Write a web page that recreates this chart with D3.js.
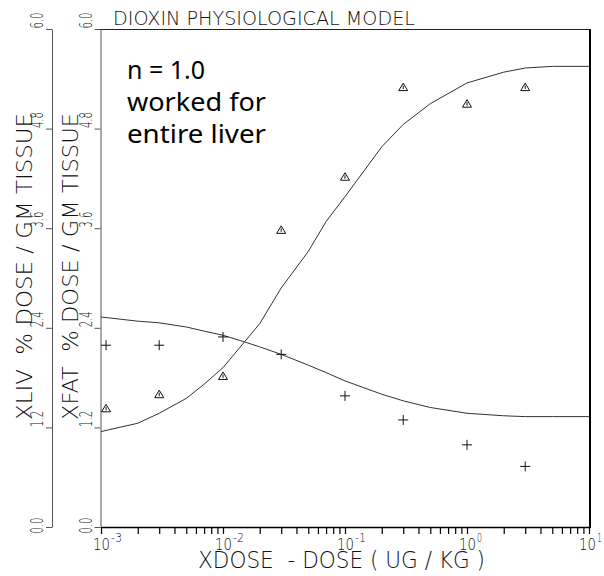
<!DOCTYPE html>
<html>
<head>
<meta charset="utf-8">
<script src="https://cdn.jsdelivr.net/npm/d3@7"></script>
<style>
  body { margin: 0; background: #fff; }
  .plot text { font-family: "DejaVu Sans", sans-serif; font-weight: 200; fill: #111; white-space: pre; }
  .note { font-family: "Noto Sans", sans-serif; fill: #000; }
</style>
</head>
<body>
<svg id="chart" width="604" height="576"></svg>
<script>
// doses for the model curves (ug/kg)
const curveDose = [0.001, 0.002, 0.003, 0.005, 0.007, 0.01, 0.015, 0.02, 0.03, 0.05, 0.07,
  0.1, 0.2, 0.3, 0.5, 1, 2, 3, 5, 10];
// liver model curve (% dose / gm tissue)
const liverCurve = [1.15, 1.25, 1.37, 1.55, 1.72, 1.92, 2.23, 2.45, 2.88, 3.32, 3.68,
  3.98, 4.58, 4.85, 5.10, 5.35, 5.48, 5.53, 5.55, 5.55];
// fat model curve
const fatCurve = [2.53, 2.48, 2.46, 2.41, 2.36, 2.31, 2.23, 2.17, 2.08, 1.95, 1.86,
  1.76, 1.60, 1.52, 1.44, 1.37, 1.34, 1.33, 1.33, 1.33];

// observed data
const obsDose = [0.0011, 0.003, 0.01, 0.03, 0.1, 0.3, 1, 3];
const liverObs = [1.43, 1.60, 1.82, 3.58, 4.22, 5.30, 5.10, 5.30];
const fatObs = [2.19, 2.19, 2.29, 2.08, 1.58, 1.29, 0.99, 0.73];

const yTicks = [0, 1.2, 2.4, 3.6, 4.8, 6.0];
const xDecades = [-3, -2, -1, 0, 1];
const noteLines = ["n = 1.0", "worked for", "entire liver"];

const svg = d3.select("#chart");
const g = svg.append("g").attr("class", "plot");

const x = d3.scaleLog().domain([1e-3, 10]).range([101, 589]);
const y = d3.scaleLinear().domain([0, 6]).range([527, 29]);

// minor + major ticks on the log axis
const xTicks = [];
xDecades.forEach((e) => {
  for (let m = 1; m <= 9; m++) {
    const v = m * Math.pow(10, e);
    if (v <= 10 + 1e-9) xTicks.push(v);
  }
});

// frame: top line and right border
g.append("line").attr("x1", 100).attr("x2", 590).attr("y1", 29.5).attr("y2", 29.5)
  .attr("stroke", "#222").attr("stroke-width", 1);
g.append("line").attr("x1", 590).attr("x2", 590).attr("y1", 29).attr("y2", 528)
  .attr("stroke", "#000").attr("stroke-width", 2);

// two left axes (same scale)
const leftAxes = [
  { pos: 52, title: "XLIV  % DOSE / GM TISSUE", titleX: 32 },
  { pos: 100.5, title: "XFAT  % DOSE / GM TISSUE", titleX: 78 }
];

leftAxes.forEach((a) => {
  const ax = g.append("g")
    .attr("transform", `translate(${a.pos},0)`)
    .call(d3.axisLeft(y).tickValues(yTicks).tickSize(6).tickSizeOuter(0)
      .tickFormat(d3.format(".1f")));
  ax.select(".domain").attr("stroke", "#555");
  ax.selectAll(".tick line").attr("stroke", "#555");
  ax.selectAll(".tick text")
    .attr("x", 0).attr("y", 0).attr("dy", 0)
    .attr("text-anchor", "start")
    .attr("font-size", 17)
    .attr("textLength", 16)
    .attr("lengthAdjust", "spacingAndGlyphs")
    .attr("fill", "#111")
    .attr("transform", (d) => `translate(-9,${d === 0 ? 6 : -1}) rotate(-90)`);

  g.append("text")
    .attr("transform", `translate(${a.titleX},420) rotate(-90)`)
    .attr("font-size", 21)
    .attr("textLength", 307)
    .attr("lengthAdjust", "spacingAndGlyphs")
    .text(a.title);
});

// bottom log axis
const bx = g.append("g")
  .attr("transform", "translate(0,527)")
  .call(d3.axisBottom(x).tickValues(xTicks).tickSize(7).tickSizeOuter(0));
bx.selectAll(".tick text").remove();
bx.select(".domain").attr("stroke", "#000").attr("stroke-width", 1.5);
bx.selectAll(".tick line").attr("stroke", "#000").attr("stroke-width", 1.2);

// decade labels 10^n
xDecades.forEach((e) => {
  const px = x(Math.pow(10, e));
  const t = g.append("text").attr("x", e === 1 ? px - 10 : px - 8).attr("y", 550)
    .attr("font-size", 16);
  t.append("tspan").text("10").attr("textLength", 17).attr("lengthAdjust", "spacingAndGlyphs");
  const sup = String(e);
  t.append("tspan").text(sup).attr("dx", 1).attr("dy", -8).attr("font-size", 13)
    .attr("textLength", sup.length > 1 ? 11 : 5).attr("lengthAdjust", "spacingAndGlyphs");
});

g.append("text")
  .attr("x", 198).attr("y", 568)
  .attr("font-size", 23)
  .attr("textLength", 287)
  .attr("lengthAdjust", "spacingAndGlyphs")
  .text("XDOSE  - DOSE ( UG / KG )");

g.append("text")
  .attr("x", 113).attr("y", 25)
  .attr("font-size", 20)
  .attr("textLength", 302)
  .attr("lengthAdjust", "spacingAndGlyphs")
  .text("DIOXIN PHYSIOLOGICAL MODEL");

// model curves
const line = d3.line().x((d) => x(d[0])).y((d) => y(d[1]));
[liverCurve, fatCurve].forEach((c) => {
  g.append("path")
    .datum(curveDose.map((d, i) => [d, c[i]]))
    .attr("fill", "none")
    .attr("stroke", "#333")
    .attr("stroke-width", 1)
    .attr("d", line);
});

// observed liver: triangles
g.append("g").selectAll("path")
  .data(obsDose.map((d, i) => [d, liverObs[i]]))
  .join("path")
  .attr("transform", (d) => `translate(${x(d[0])},${y(d[1])})`)
  .attr("d", "M0,-4L4.5,3.5L-4.5,3.5Z M0,-1.5L0,2")
  .attr("fill", "none")
  .attr("stroke", "#111")
  .attr("stroke-width", 1);

// observed fat: crosses
g.append("g").selectAll("path")
  .data(obsDose.map((d, i) => [d, fatObs[i]]))
  .join("path")
  .attr("transform", (d) => `translate(${x(d[0])},${y(d[1])})`)
  .attr("d", "M-5,0H5M0,-5V5")
  .attr("fill", "none")
  .attr("stroke", "#111")
  .attr("stroke-width", 1);

// annotation
const noteY = [79, 111, 143];
const noteW = [78, 139, 139];
noteLines.forEach((s, i) => {
  svg.append("text")
    .attr("class", "note")
    .attr("x", 127).attr("y", noteY[i])
    .attr("font-size", 26)
    .attr("textLength", noteW[i])
    .attr("lengthAdjust", "spacingAndGlyphs")
    .text(s);
});
</script>
</body>
</html>
